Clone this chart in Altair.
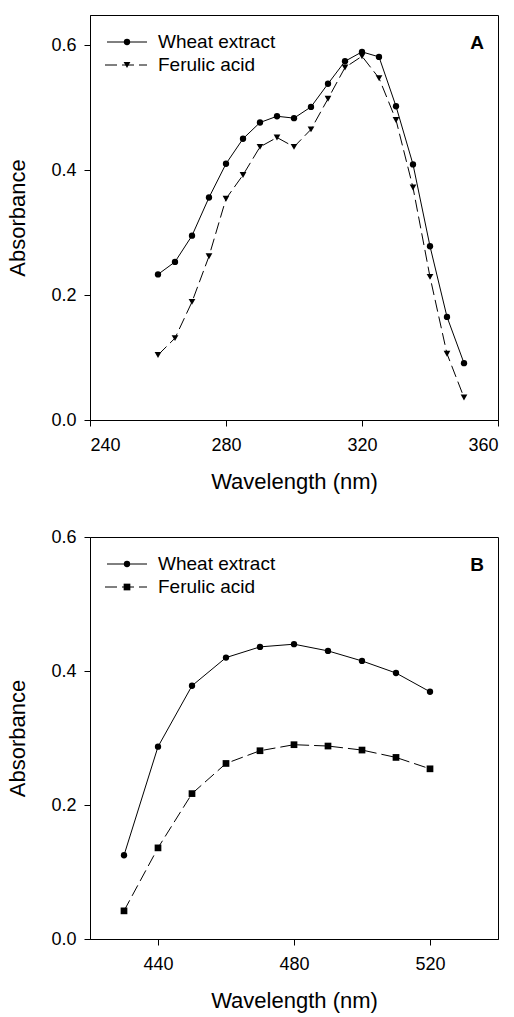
import altair as alt
import pandas as pd

# ---------------- data ----------------
series_names = ["Wheat extract", "Ferulic acid"]

wl_a = [260, 265, 270, 275, 280, 285, 290, 295, 300, 305, 310, 315, 320, 325, 330, 335, 340, 345, 350]
wheat_a = [0.233, 0.253, 0.295, 0.356, 0.410, 0.450, 0.476, 0.486, 0.483, 0.501, 0.538, 0.574,
           0.589, 0.581, 0.502, 0.409, 0.278, 0.165, 0.091]
ferulic_a = [0.104, 0.131, 0.189, 0.262, 0.354, 0.392, 0.437, 0.452, 0.437, 0.465, 0.514, 0.564,
             0.582, 0.547, 0.480, 0.372, 0.229, 0.106, 0.036]

wl_b = [430, 440, 450, 460, 470, 480, 490, 500, 510, 520]
wheat_b = [0.125, 0.287, 0.378, 0.420, 0.436, 0.440, 0.430, 0.415, 0.397, 0.369]
ferulic_b = [0.042, 0.136, 0.217, 0.262, 0.281, 0.290, 0.288, 0.282, 0.271, 0.254]

x_ticks_a = [240, 280, 320, 360]
x_ticks_b = [440, 480, 520]
y_ticks = [0.0, 0.2, 0.4, 0.6]

FONT = "Liberation Sans"
W = 408


def panel(wl, wheat, fer, xdom, xticks, ydom, fer_shape, fer_size, tag, h):
    xs = alt.Scale(domain=xdom, nice=False, zero=False)
    ys = alt.Scale(domain=ydom, nice=False, zero=False)
    xax = alt.Axis(values=xticks, title="Wavelength (nm)", grid=False, format="d")
    yax = alt.Axis(values=y_ticks, title="Absorbance", grid=False, format=".1f")

    df_w = pd.DataFrame({"wl": wl, "abs": wheat})
    df_f = pd.DataFrame({"wl": wl, "abs": fer})

    enc = dict(x=alt.X("wl:Q", scale=xs, axis=xax), y=alt.Y("abs:Q", scale=ys, axis=yax))

    line_w = alt.Chart(df_w).mark_line(color="black", strokeWidth=1).encode(**enc)
    pt_w = alt.Chart(df_w).mark_point(shape="circle", filled=True, color="black", size=40, opacity=1).encode(**enc)
    line_f = alt.Chart(df_f).mark_line(color="black", strokeWidth=1, strokeDash=[12, 5]).encode(**enc)
    pt_f = alt.Chart(df_f).mark_point(shape=fer_shape, filled=True, color="black", size=fer_size, opacity=1).encode(**enc)

    one = pd.DataFrame({"name": [series_names[0]]})
    two = pd.DataFrame({"name": [series_names[1]]})
    y1, y2 = 27, 50
    leg = [
        alt.Chart(one).mark_rule(color="black", strokeWidth=1).encode(x=alt.value(17), x2=alt.value(57), y=alt.value(y1)),
        alt.Chart(one).mark_point(shape="circle", filled=True, color="black", size=40, opacity=1).encode(x=alt.value(37), y=alt.value(y1)),
        alt.Chart(one).mark_text(align="left", baseline="middle", font=FONT, fontSize=19, color="black").encode(
            x=alt.value(68), y=alt.value(y1), text="name:N"),
        alt.Chart(two).mark_rule(color="black", strokeWidth=1, strokeDash=[12, 5]).encode(x=alt.value(15), x2=alt.value(57), y=alt.value(y2)),
        alt.Chart(two).mark_point(shape=fer_shape, filled=True, color="black", size=fer_size, opacity=1).encode(x=alt.value(37), y=alt.value(y2)),
        alt.Chart(two).mark_text(align="left", baseline="middle", font=FONT, fontSize=19, color="black").encode(
            x=alt.value(68), y=alt.value(y2), text="name:N"),
        alt.Chart(one).mark_text(align="center", baseline="middle", font=FONT, fontSize=19, fontWeight="bold", color="black").encode(
            x=alt.value(387), y=alt.value(28), text=alt.value(tag)),
    ]
    return alt.layer(line_w, line_f, pt_w, pt_f, *leg).properties(width=W, height=h)


pa = panel(wl_a, wheat_a, ferulic_a, [240, 360], x_ticks_a, [0, 0.648], "triangle-down", 45, "A", 405)
pb = panel(wl_b, wheat_b, ferulic_b, [420, 540], x_ticks_b, [0, 0.6], "square", 45, "B", 402)

chart = alt.vconcat(pa, pb, spacing=34).properties(
    padding={"left": 6, "top": 14, "right": 5, "bottom": 5},
    background="white",
).configure_view(stroke="black", strokeWidth=1).configure_axis(
    domainColor="black", domainWidth=1, tickColor="black", tickSize=6, tickWidth=1,
    labelFont=FONT, labelFontSize=18, labelColor="black", labelPadding=8,
    titleFont=FONT, titleFontSize=22, titleFontWeight="normal", titleColor="black",
).configure_axisY(titlePadding=21).configure_axisX(titlePadding=17, labelPadding=10)

chart.save("out.html", embed_options={"renderer": "svg", "actions": False})
